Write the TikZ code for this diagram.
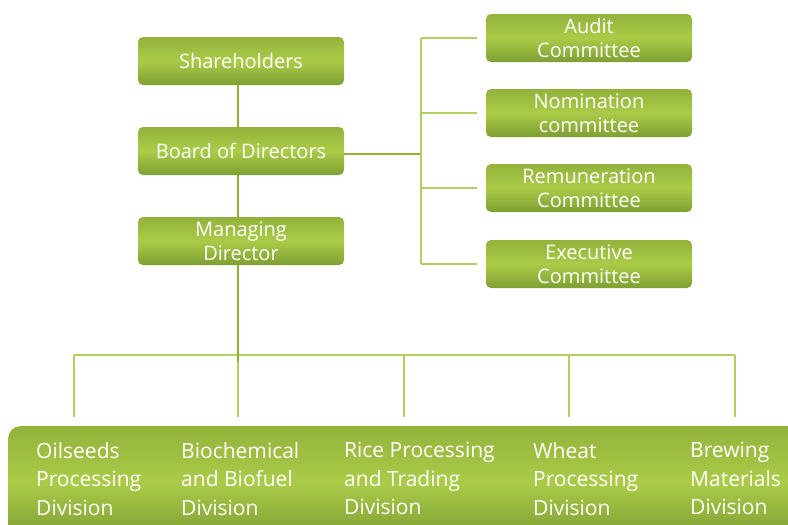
\documentclass[tikz,border=0pt]{standalone}
\usepackage{fontspec}
\setmainfont{Open Sans}
\usepackage{tikz}
\usetikzlibrary{positioning}

\definecolor{leafdark}{HTML}{7E9F33}
\definecolor{leafmid}{HTML}{ABCB48}
\definecolor{leaftop}{HTML}{93B23C}
\definecolor{stem}{HTML}{8DB52A}
\definecolor{twig}{HTML}{B2D062}

\tikzset{
  orgbox/.style={rounded corners=5pt, minimum width=206pt, minimum height=48pt,
    top color=leaftop, bottom color=leafdark, middle color=leafmid,
    text=white, align=center, font=\fontsize{20}{24}\selectfont, inner sep=0pt},
  divtext/.style={anchor=north west, text=white, align=left, inner sep=0pt,
    font=\fontsize{21}{28.5}\selectfont},
  stemline/.style={stem, line width=2pt},
  twigline/.style={twig, line width=2pt}
}

\begin{document}
\begin{tikzpicture}[x=1pt,y=-1pt]
\useasboundingbox (0,0) rectangle (788,525);
\clip (0,0) rectangle (788,525);

% governance boxes
\node[orgbox] (share) at (241,61) {Shareholders};
\node[orgbox] (board) at (241,151) {Board of Directors};
\node[orgbox] (md) at (241,241) {Managing\\Director};

% committees
\node[orgbox] (audit) at (589,38) {Audit\\Committee};
\node[orgbox] (nomin) at (589,113) {Nomination\\committee};
\node[orgbox] (remun) at (589,188) {Remuneration\\Committee};
\node[orgbox] (exec) at (589,264) {Executive\\Committee};

% divisions bar
\node[rounded corners=12pt, minimum width=800pt, minimum height=112pt, anchor=north west,
  top color=leaftop, bottom color=leafdark, middle color=leafmid] (divs) at (8,426) {};
\node[divtext] (oil) at (36,442) {Oilseeds\\Processing\\Division};
\node[divtext] (bio) at (181,442) {Biochemical\\and Biofuel\\Division};
\node[divtext] (rice) at (344,442) {Rice Processing\\and Trading\\Division};
\node[divtext] (wheat) at (533,442) {Wheat\\Processing\\Division};
\node[divtext] (brew) at (690,442) {Brewing\\Materials\\Division};

% connectors
\coordinate (hub) at (238,362);
\coordinate (fork) at (421,154);
\draw[twigline] (74,355) -- (735,355);
\foreach \x in {74,238,404,569,735}
  \draw[twigline] (\x,355) -- (\x,417);
\draw[stemline] (share.south -| hub) -- (board.north -| hub);
\draw[stemline] (board.south -| hub) -- (md.north -| hub);
\draw[stemline] (md.south -| hub) -- (hub);
\draw[stemline] (board.east |- fork) -- (fork);
\draw[twigline] (fork |- audit) -- (fork |- exec);
\foreach \n in {audit,nomin,remun,exec}
  \draw[twigline] (fork |- \n) -- ++(56,0);
\end{tikzpicture}
\end{document}
